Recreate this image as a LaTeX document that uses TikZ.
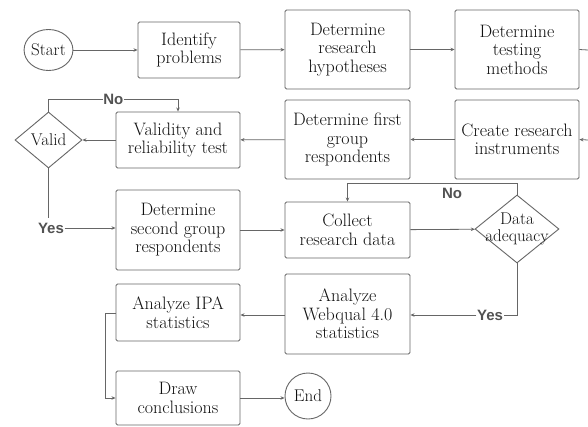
\documentclass[tikz,border=0pt]{standalone}
\usepackage{fontspec}
\setmainfont{Latin Modern Roman}
\newfontfamily\lblfont{Liberation Sans}
\usetikzlibrary{shapes.geometric,arrows.meta}
\definecolor{lc}{HTML}{666666}
\definecolor{tc}{HTML}{111111}
\tikzset{
  box/.style={draw=lc,line width=0.9pt,rounded corners=1.5pt,align=center,text=tc,
    font=\fontsize{18}{18.5}\selectfont,inner sep=0pt},
  term/.style={draw=lc,line width=0.9pt,ellipse,text=tc,font=\fontsize{17}{18}\selectfont,inner sep=0pt},
  dec/.style={draw=lc,line width=0.9pt,diamond,text=tc,align=center,font=\fontsize{17}{17}\selectfont,inner sep=0pt},
  conn/.style={draw=lc,line width=0.8pt,-{Stealth[length=4pt,width=3.5pt]}},
  plain/.style={draw=lc,line width=0.8pt},
  lbl/.style={font=\lblfont\bfseries\fontsize{15}{15}\selectfont,text=lc!80!black,fill=white,inner sep=0.5pt}
}
\begin{document}
\begin{tikzpicture}[x=1pt,y=-1pt]
\useasboundingbox[fill=white] (0,0) rectangle (588,426);
\node[term,minimum width=45pt,minimum height=41pt] (start) at (48.5,50) {Start};
\node[box,minimum width=102pt,minimum height=56pt] (ident) at (189,50) {Identify\\problems};
\node[box,minimum width=125pt,minimum height=79pt] (hyp) at (347.5,49.5) {Determine\\research\\hypotheses};
\node[box,minimum width=124pt,minimum height=79pt] (meth) at (517,49.5) {Determine\\testing\\methods};
\node[box,minimum width=124pt,minimum height=79pt] (instr) at (517,139.5) {Create research\\instruments};
\node[box,minimum width=125pt,minimum height=79pt] (first) at (347.5,139.5) {Determine first\\group\\respondents};
\node[box,minimum width=124pt,minimum height=56pt] (vrt) at (178,140) {Validity and\\reliability test};
\node[dec,minimum width=67pt,minimum height=56pt,aspect=1.2] (valid) at (48.5,140) {Valid};
\node[box,minimum width=124pt,minimum height=80pt] (second) at (178,230) {Determine\\second group\\respondents};
\node[box,minimum width=125pt,minimum height=56pt] (collect) at (347.5,230) {Collect\\research data};
\node[dec,minimum width=84pt,minimum height=68pt,aspect=1.24] (adeq) at (517,229) {};
\node[text=tc,align=center,font=\fontsize{17}{17}\selectfont] (adeqt) at (517,229) {Data\\adequacy};
\node[box,minimum width=125pt,minimum height=80pt] (webq) at (347.5,314) {Analyze\\Webqual 4.0\\statistics};
\node[box,minimum width=124pt,minimum height=57pt] (ipa) at (178,312.5) {Analyze IPA\\statistics};
\node[box,minimum width=124pt,minimum height=54pt] (concl) at (178,398) {Draw\\conclusions};
\node[term,circle,minimum size=46pt] (end) at (308,396) {End};
\coordinate (outA) at (588,50);
\coordinate (inB) at (588,140);
% row 1
\draw[conn] (start) -- (ident);
\draw[conn] (ident) -- (hyp);
\draw[conn] (hyp) -- (meth);
\draw[plain] (meth.east) -- (outA);
% row 2
\draw[conn] (inB) -- (instr.east);
\draw[conn] (instr) -- (first);
\draw[conn] (first) -- (vrt);
\draw[conn] (vrt) -- (valid);
\draw[conn] (valid.north) -- ++(0,-12) -| node[lbl,pos=0.25] (no1) {No} (vrt.north);
% yes path
\node[lbl] (yes1) at (51,228) {Yes};
\draw[plain] (valid.south) -- (48.5,218);
\draw[conn] (yes1.east) -- (yes1.east -| second.west);
% row 3
\draw[conn] (second) -- (collect);
\draw[conn] (collect) -- (adeq);
\draw[conn] (adeq.north) -- ++(0,-11) -| (collect.north);
\node[lbl,fill=none] (no2) at (452,193) {No};
\node[lbl] (yes2) at (490,315) {Yes};
\draw[plain] (adeq.south) |- (yes2.east);
\draw[conn] (yes2.west) -- (yes2.west -| webq.east);
\draw[conn] (webq.west |- 0,315) -- (ipa.east |- 0,315);
\draw[conn] (ipa.west |- 0,313) -- (105,313) |- (concl.west |- 0,398);
\draw[conn] (concl.east |- 0,398) -- (end.west |- 0,398);
\end{tikzpicture}
\end{document}
